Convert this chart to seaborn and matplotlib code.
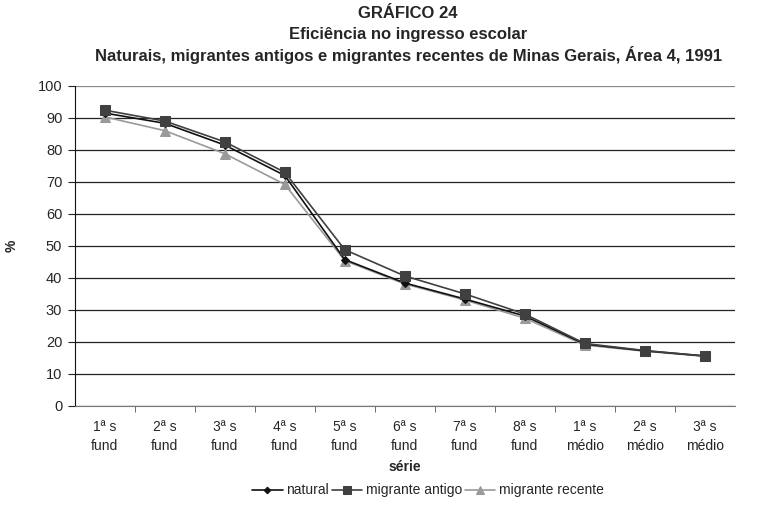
import numpy as np
import pandas as pd
import seaborn as sns
import matplotlib.pyplot as plt
from matplotlib.ticker import FixedLocator

# categories and series values
series_labels = ["1ª s\nfund", "2ª s\nfund", "3ª s\nfund", "4ª s\nfund", "5ª s\nfund",
                 "6ª s\nfund", "7ª s\nfund", "8ª s\nfund", "1ª s\nmédio", "2ª s\nmédio",
                 "3ª s\nmédio"]
natural = [91.5, 88.3, 81.5, 72.0, 45.7, 38.4, 33.4, 28.1, 19.3, 17.2, 15.6]
migrante_antigo = [92.4, 89.0, 82.5, 73.0, 48.8, 40.6, 35.0, 28.7, 19.5, 17.3, 15.6]
migrante_recente = [90.3, 86.0, 78.8, 69.2, 45.4, 38.1, 33.1, 27.4, 19.0, 17.1, 15.5]

title_lines = ["GRÁFICO 24", "Eficiência no ingresso escolar",
               "Naturais, migrantes antigos e migrantes recentes de Minas Gerais, Área 4, 1991"]

groups = ["natural", "migrante antigo", "migrante recente"]
colors = {"natural": "#111111", "migrante antigo": "#404040", "migrante recente": "#9a9a9a"}
markers = {"natural": "D", "migrante antigo": "s", "migrante recente": "^"}
msizes = {"natural": 4.5, "migrante antigo": 7, "migrante recente": 7.5}

df = pd.DataFrame({
    "pos": np.tile(np.arange(len(series_labels)), 3),
    "grupo": np.repeat(groups, len(series_labels)),
    "valor": natural + migrante_antigo + migrante_recente,
})

sns.set_style("white")
plt.rcParams["font.family"] = ["Liberation Sans", "DejaVu Sans"]

fig = plt.figure(figsize=(7.63, 5.08), dpi=100)
ax = fig.add_axes([0.098, 0.201, 0.865, 0.630])

# draw lines, later series on top as in the reference
for g in ["migrante recente", "natural", "migrante antigo"]:
    sub = df[df["grupo"] == g]
    sns.lineplot(data=sub, x="pos", y="valor", ax=ax, color=colors[g],
                 marker=markers[g], markersize=msizes[g], markeredgecolor=colors[g],
                 linewidth=1.2, label=g, zorder=3)

ax.set_xlim(-0.5, len(series_labels) - 0.5)
ax.set_ylim(0, 100)
ax.set_yticks(np.arange(0, 101, 10))
ax.set_xticks(np.arange(len(series_labels)))
ax.set_xticklabels(series_labels, fontsize=10, linespacing=1.5)
ax.tick_params(axis="x", which="major", length=0, pad=10)
ax.xaxis.set_minor_locator(FixedLocator(np.arange(0.5, len(series_labels) - 0.5, 1)))
ax.tick_params(axis="x", which="minor", length=4, direction="out", color="#555555")
ax.tick_params(axis="y", length=5, direction="out", labelsize=10.5, color="#222222", pad=4)
ax.xaxis.set_tick_params(bottom=True, which="minor")
ax.yaxis.set_tick_params(left=True)

ax.yaxis.grid(True, color="#222222", linewidth=0.9)
ax.get_ygridlines()[-1].set_color("#888888")
ax.set_axisbelow(True)
for s in ["top", "right"]:
    ax.spines[s].set_visible(False)
ax.spines["left"].set_color("#111111")
ax.spines["bottom"].set_color("#777777")

ax.set_xlabel("série", fontsize=10, fontweight="bold", labelpad=5)
ax.set_ylabel("%", fontsize=10, fontweight="bold", labelpad=14)

handles, labels = ax.get_legend_handles_labels()
order = [labels.index(g) for g in groups]
ax.legend([handles[i] for i in order], [labels[i] for i in order],
          loc="lower center", bbox_to_anchor=(0.535, -0.325), ncol=3, frameon=False,
          fontsize=10, handlelength=2.2, columnspacing=0.2, handletextpad=0.25,
          markerscale=0.75)

for i, line in enumerate(title_lines):
    fig.text(0.535, 1 - (14 + 20.5 * i) / 508, line, ha="center", va="center",
             fontsize=12, fontweight="bold")

fig.savefig("out.png", dpi=100)
